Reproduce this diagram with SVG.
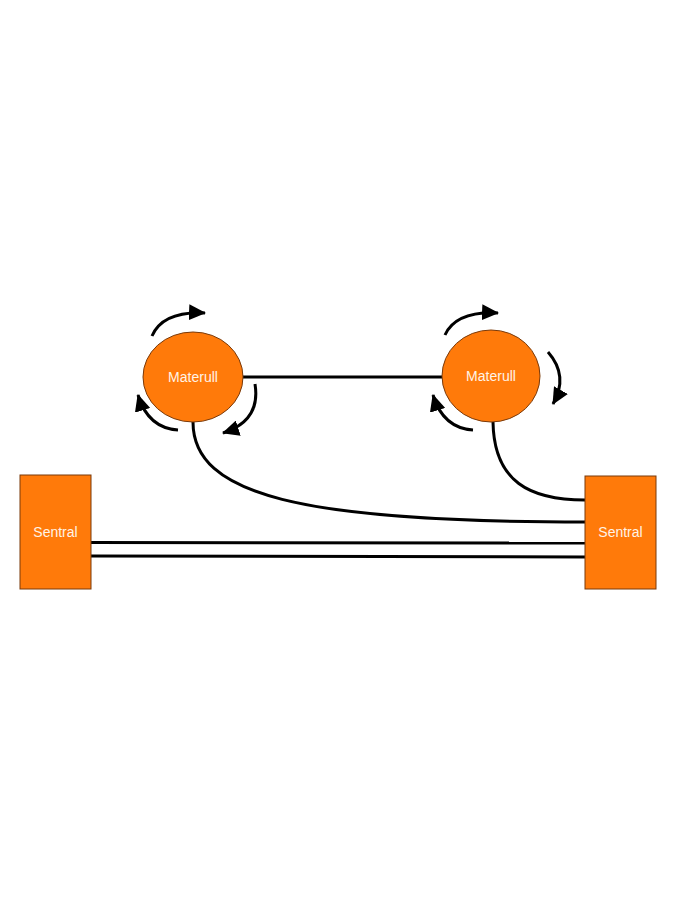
<svg xmlns="http://www.w3.org/2000/svg" width="675" height="900" viewBox="0 0 675 900">
<style>
.node{fill:#FF7A0A;stroke:#7A3A0A;stroke-width:1}
.lbl{font-family:"Liberation Sans",Arial,sans-serif;font-size:14px;fill:#FFF3E6;text-anchor:middle;dominant-baseline:central}
.con{fill:none;stroke:#000;stroke-width:3}
.rot{fill:none;stroke:#000;stroke-width:3}
</style>
<defs>
<marker id="ah" markerUnits="userSpaceOnUse" markerWidth="18" markerHeight="16" refX="16" refY="8" orient="auto">
<path d="M0,0 L17,8 L0,16 z" fill="#000"/>
</marker>
</defs>
<rect width="675" height="900" fill="#fff"/>
<g id="connectors">
<line class="con" x1="243" y1="377" x2="442" y2="377"/>
<path class="con" d="M193,422 C193,495 300,522 585,522"/>
<path class="con" d="M493,422 C494,482 530,500 585,500"/>
<line class="con" x1="91" y1="542.5" x2="585" y2="543"/>
<line class="con" x1="91" y1="556" x2="585" y2="557"/>
</g>
<g id="rotations">
<path class="rot" d="M152,336 Q163,311 205,313" marker-end="url(#ah)"/>
<path class="rot" d="M178,430 Q148,428 138,395" marker-end="url(#ah)"/>
<path class="rot" d="M255,384 Q261,421 223,433" marker-end="url(#ah)"/>
<path class="rot" d="M445,335 Q456,311 498,313" marker-end="url(#ah)"/>
<path class="rot" d="M548,352 Q569,376 553,404" marker-end="url(#ah)"/>
<path class="rot" d="M473,430 Q443,428 433,395" marker-end="url(#ah)"/>
</g>
<g id="materull1">
<ellipse class="node" cx="193" cy="377" rx="50" ry="45"/>
<text class="lbl" x="193" y="377">Materull</text>
</g>
<g id="materull2">
<ellipse class="node" cx="491" cy="376" rx="49" ry="46"/>
<text class="lbl" x="491" y="376">Materull</text>
</g>
<g id="sentral1">
<rect class="node" x="20" y="475" width="71" height="114"/>
<text class="lbl" x="55.5" y="532">Sentral</text>
</g>
<g id="sentral2">
<rect class="node" x="585" y="476" width="71" height="113"/>
<text class="lbl" x="620.5" y="532">Sentral</text>
</g>
</svg>
